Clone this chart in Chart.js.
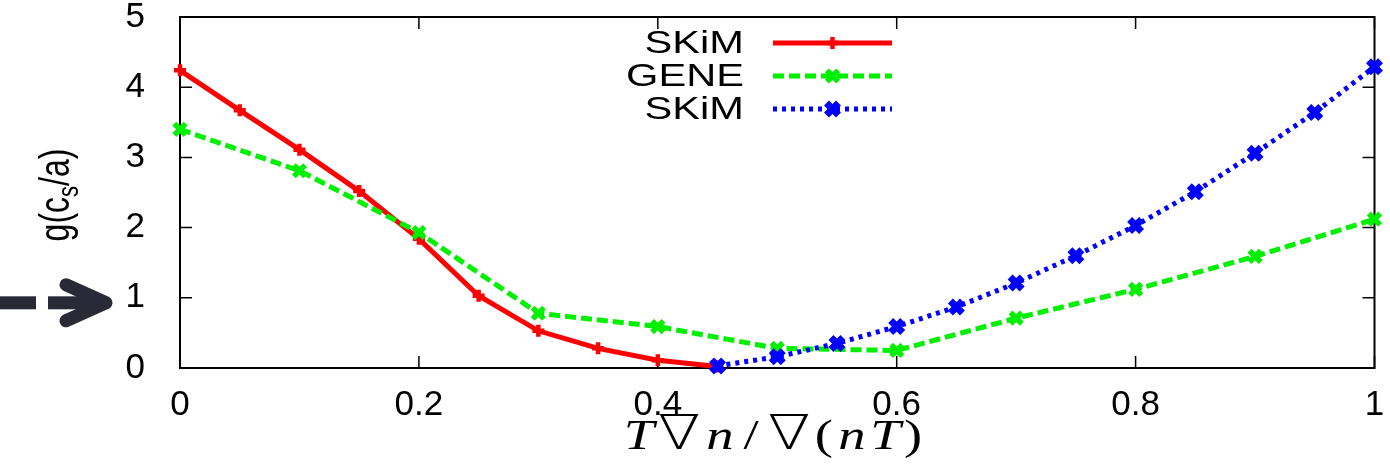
<!DOCTYPE html>
<html>
<head>
<meta charset="utf-8">
<script src="https://cdn.jsdelivr.net/npm/chart.js@4.4.1/dist/chart.umd.min.js"></script>
<style>
  html, body { margin: 0; padding: 0; background: #fff; }
  #wrap { width: 1390px; height: 464px; }
</style>
</head>
<body>
<div id="wrap"><canvas id="chart" width="1390" height="464"></canvas></div>
<script>
// values
const redX = [0, 0.05, 0.1, 0.15, 0.2, 0.25, 0.3, 0.35, 0.4, 0.45];
const redY = [4.24, 3.67, 3.11, 2.52, 1.84, 1.03, 0.53, 0.28, 0.11, 0.02];

const greenX = [0, 0.1, 0.2, 0.3, 0.4, 0.5, 0.6, 0.7, 0.8, 0.9, 1];
const greenY = [3.40, 2.81, 1.93, 0.78, 0.59, 0.28, 0.25, 0.71, 1.12, 1.59, 2.12];

const blueX = [0.45, 0.5, 0.55, 0.6, 0.65, 0.7, 0.75, 0.8, 0.85, 0.9, 0.95, 1];
const blueY = [0.03, 0.16, 0.35, 0.59, 0.87, 1.21, 1.60, 2.03, 2.51, 3.06, 3.64, 4.29];

const xTicks = [0, 0.2, 0.4, 0.6, 0.8, 1];
const yTicks = [0, 1, 2, 3, 4, 5];

const labels = ['SKiM', 'GENE', 'SKiM'];

function toPoints(xs, ys) {
    return xs.map((x, i) => ({ x: x, y: ys[i] }));
}

const SANS = '"Liberation Sans", Arial, sans-serif';
const SERIF = '"Liberation Serif", "DejaVu Serif", serif';
// the original figure is stretched sideways, text included
const STRETCH = 1.3;

// box + inward ticks on all four sides
const frame = {
    id: 'frame',
    beforeDatasetsDraw(chart) {
        const { ctx, chartArea: a, scales } = chart;
        ctx.save();
        ctx.strokeStyle = '#000';
        ctx.lineWidth = 2;
        ctx.strokeRect(a.left, a.top, a.right - a.left, a.bottom - a.top);
        ctx.lineWidth = 1.5;
        ctx.beginPath();
        xTicks.forEach(v => {
            const px = scales.x.getPixelForValue(v);
            ctx.moveTo(px, a.bottom); ctx.lineTo(px, a.bottom - 12);
            ctx.moveTo(px, a.top); ctx.lineTo(px, a.top + 12);
        });
        yTicks.forEach(v => {
            const py = scales.y.getPixelForValue(v);
            ctx.moveTo(a.left, py); ctx.lineTo(a.left + 12, py);
            ctx.moveTo(a.right, py); ctx.lineTo(a.right - 12, py);
        });
        ctx.stroke();
        ctx.restore();
    }
};

// legend inside the plot: text right aligned, sample on the right
const insideLegend = {
    id: 'insideLegend',
    afterDraw(chart) {
        const { ctx, chartArea: a } = chart;
        chart.data.datasets.forEach((ds, i) => {
            const y = a.top + 26 + i * 33;
            const x0 = a.left + 593, x1 = a.left + 712;
            ctx.save();
            ctx.save();
            ctx.translate(a.left + 564, y + 1);
            ctx.scale(STRETCH, 1);
            ctx.font = '32px ' + SANS;
            ctx.fillStyle = '#000';
            ctx.textAlign = 'right';
            ctx.textBaseline = 'middle';
            ctx.fillText(ds.label, 0, 0);
            ctx.restore();
            ctx.strokeStyle = ds.borderColor;
            ctx.lineWidth = ds.borderWidth;
            ctx.setLineDash(ds.borderDash || []);
            ctx.beginPath();
            ctx.moveTo(x0, y); ctx.lineTo(x1, y);
            ctx.stroke();
            ctx.setLineDash([]);
            ctx.fillStyle = ds.borderColor;
            ctx.lineWidth = ds.pointBorderWidth;
            Chart.helpers.drawPoint(ctx, {
                pointStyle: ds.pointStyle,
                radius: ds.pointRadius,
                borderWidth: ds.pointBorderWidth,
                rotation: 0
            }, (x0 + x1) / 2, y);
            ctx.restore();
        });
    }
};

// axis titles and the arrow on the left
const extras = {
    id: 'extras',
    afterDraw(chart) {
        const { ctx, chartArea: a, scales } = chart;

        // y title: g(c_s/a), rotated
        ctx.save();
        ctx.translate(54, 195);
        ctx.rotate(-Math.PI / 2);
        ctx.scale(1, 1.35);
        ctx.fillStyle = '#000';
        ctx.textBaseline = 'alphabetic';
        const big = '32px ' + SANS, small = '22px ' + SANS;
        ctx.font = big;
        const w1 = ctx.measureText('g(c').width;
        const w3 = ctx.measureText('/a)').width;
        ctx.font = small;
        const w2 = ctx.measureText('s').width;
        let x = -(w1 + w2 + w3) / 2;
        const base = 11;
        ctx.font = big; ctx.fillText('g(c', x, base); x += w1;
        ctx.font = small; ctx.fillText('s', x, base + 7); x += w2;
        ctx.font = big; ctx.fillText('/a)', x, base);
        ctx.restore();

        // x title: T∇n/∇(nT), glyphs spaced like TeX math (advances in em)
        const parts = [['T', true, 0.584], ['\u2207', false, 0.833], ['n', true, 0.6],
                       ['/', false, 0.5], ['\u2207', false, 0.833], ['(', false, 0.389],
                       ['n', true, 0.6], ['T', true, 0.584], [')', false, 0.389]];
        const emSum = parts.reduce((s, p) => s + p[2], 0);
        const titleW = 302;
        const em = titleW / emSum;
        let gx = (a.left + a.right) / 2 - 4 - titleW / 2;
        ctx.save();
        ctx.fillStyle = '#000';
        ctx.textAlign = 'center';
        ctx.textBaseline = 'alphabetic';
        parts.forEach(p => {
            ctx.save();
            ctx.translate(gx + em * p[2] / 2, 449);
            ctx.scale(1.3, 1);
            if (p[0] === '\u2207') {
                ctx.font = '200 48px "DejaVu Sans", ' + SERIF;
            } else {
                ctx.font = (p[1] ? 'italic ' : '') + '42px ' + SERIF;
            }
            ctx.fillText(p[0], 0, 0);
            ctx.restore();
            gx += em * p[2];
        });
        ctx.restore();

        // dashed arrow pointing at y = 1
        const ay = scales.y.getPixelForValue(1) + 5;
        ctx.save();
        ctx.fillStyle = '#2a2a36';
        ctx.strokeStyle = '#2a2a36';
        ctx.fillRect(0, ay - 6.5, 36, 13);
        ctx.fillRect(48, ay - 6.5, 56, 13);
        ctx.lineWidth = 13;
        ctx.lineCap = 'round';
        ctx.lineJoin = 'round';
        ctx.beginPath();
        ctx.moveTo(66, ay - 18);
        ctx.lineTo(106, ay);
        ctx.lineTo(66, ay + 18);
        ctx.stroke();
        ctx.restore();
    }
};

const tickFont = { family: SANS, size: 35, lineHeight: 1 };

new Chart(document.getElementById('chart'), {
    type: 'line',
    data: {
        datasets: [
            {
                label: labels[0],
                data: toPoints(redX, redY),
                borderColor: '#ff0000',
                backgroundColor: '#ff0000',
                borderWidth: 5,
                pointStyle: 'cross',
                pointRadius: 6,
                pointBorderWidth: 4.5,
                pointBackgroundColor: '#ff0000',
                order: 3,
                clip: false
            },
            {
                label: labels[1],
                data: toPoints(greenX, greenY),
                borderColor: '#00f000',
                backgroundColor: '#00f000',
                borderWidth: 5,
                borderDash: [11, 5],
                pointStyle: 'crossRot',
                pointRadius: 8,
                pointBorderWidth: 5.5,
                pointBackgroundColor: '#00f000',
                order: 2,
                clip: false
            },
            {
                label: labels[2],
                data: toPoints(blueX, blueY),
                borderColor: '#0000ff',
                backgroundColor: '#0000ff',
                borderWidth: 5,
                borderDash: [4, 5],
                pointStyle: 'crossRot',
                pointRadius: 8.5,
                pointBorderWidth: 7,
                pointBackgroundColor: '#0000ff',
                order: 1,
                clip: false
            }
        ]
    },
    options: {
        responsive: false,
        animation: false,
        devicePixelRatio: 1,
        layout: { padding: 0 },
        plugins: {
            legend: { display: false },
            tooltip: { enabled: false }
        },
        elements: { line: { tension: 0 } },
        scales: {
            x: {
                type: 'linear',
                min: 0,
                max: 1,
                grid: { display: false },
                border: { display: false },
                afterBuildTicks: s => { s.ticks = xTicks.map(v => ({ value: v })); },
                afterFit: s => {
                    s.height = 96;
                    s.paddingLeft = 0;
                    s.paddingRight = 10;
                },
                ticks: {
                    padding: 12,
                    color: '#000',
                    maxRotation: 0,
                    font: tickFont,
                    callback: v => String(Math.round(v * 10) / 10)
                }
            },
            y: {
                type: 'linear',
                min: 0,
                max: 5,
                grid: { display: false },
                border: { display: false },
                afterBuildTicks: s => { s.ticks = yTicks.map(v => ({ value: v })); },
                afterFit: s => {
                    s.width = 180;
                    s.paddingTop = 17;
                    s.paddingBottom = 0;
                },
                ticks: {
                    padding: 27,
                    color: '#000',
                    font: tickFont,
                    callback: v => String(v)
                }
            }
        }
    },
    plugins: [frame, insideLegend, extras]
});
</script>
</body>
</html>
